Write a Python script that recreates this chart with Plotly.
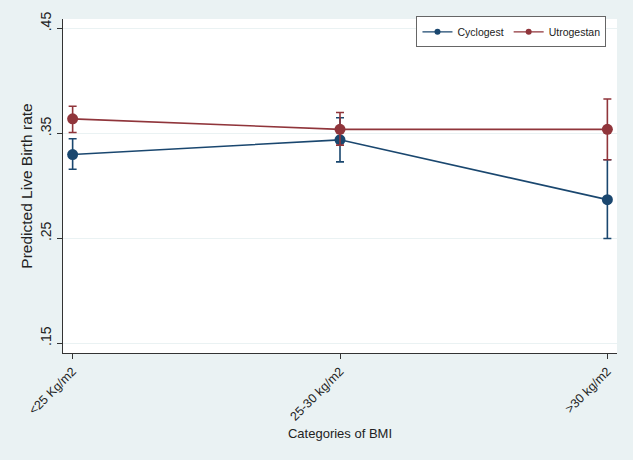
import plotly.graph_objects as go

categories = ["<25 Kg/m2", "25-30 kg/m2", ">30 kg/m2"]

cyclo_val = [0.330, 0.344, 0.287]
cyclo_lo = [0.316, 0.323, 0.250]
cyclo_hi = [0.345, 0.365, 0.325]

utro_val = [0.364, 0.354, 0.354]
utro_lo = [0.351, 0.339, 0.325]
utro_hi = [0.376, 0.370, 0.383]

y_ticks = [0.15, 0.25, 0.35, 0.45]
y_ticklabels = [".15", ".25", ".35", ".45"]

BLUE = "#1a476f"
RED = "#90353b"
BG = "#eaf2f3"


def trace(name, vals, lo, hi, color):
    return go.Scatter(
        x=categories, y=vals, name=name, mode="lines+markers",
        line=dict(color=color, width=1.6),
        marker=dict(color=color, size=11),
        showlegend=False,
        error_y=dict(type="data", symmetric=False,
                     array=[h - v for h, v in zip(hi, vals)],
                     arrayminus=[v - l for v, l in zip(vals, lo)],
                     color=color, thickness=1.6, width=4),
    )


def legend_entry(name, color):
    return go.Scatter(
        x=[None], y=[None], name=name, mode="lines+markers",
        line=dict(color=color, width=1.2),
        marker=dict(color=color, size=6),
    )


fig = go.Figure()
fig.add_trace(trace("Cyclogest", cyclo_val, cyclo_lo, cyclo_hi, BLUE))
fig.add_trace(trace("Utrogestan", utro_val, utro_lo, utro_hi, RED))
fig.add_trace(legend_entry("Cyclogest", BLUE))
fig.add_trace(legend_entry("Utrogestan", RED))

font = "Liberation Sans, Arial, sans-serif"
fig.update_layout(
    width=633, height=460,
    margin=dict(l=63, r=16, t=16, b=107),
    paper_bgcolor=BG, plot_bgcolor="white",
    font=dict(family=font, color="#222", size=12),
    showlegend=True,
    legend=dict(orientation="h", x=0.981, xanchor="right", y=1.008, yanchor="top",
                bgcolor="white", bordercolor="#666", borderwidth=1,
                font=dict(size=10.5, color="#222"),
                tracegroupgap=0),
    xaxis=dict(type="category", range=[-0.036, 2.036], showgrid=False,
               showline=True, linecolor="#333", linewidth=1.3,
               ticks="outside", ticklen=5, tickcolor="#333", tickangle=-45,
               tickfont=dict(size=12.5),
               title=dict(text="Categories of BMI", font=dict(size=13), standoff=6),
               zeroline=False),
    yaxis=dict(range=[0.1408, 0.4592], tickvals=y_ticks, ticktext=y_ticklabels,
               showgrid=True, gridcolor=BG, gridwidth=1.2,
               showline=True, linecolor="#333", linewidth=1.3,
               ticks="outside", ticklen=5, tickcolor="#333", tickangle=-90,
               tickfont=dict(size=14), ticklabelshift=-5,
               title=dict(text="Predicted Live Birth rate", font=dict(size=15.5), standoff=1),
               zeroline=False),
)

fig.write_html("out.html")
